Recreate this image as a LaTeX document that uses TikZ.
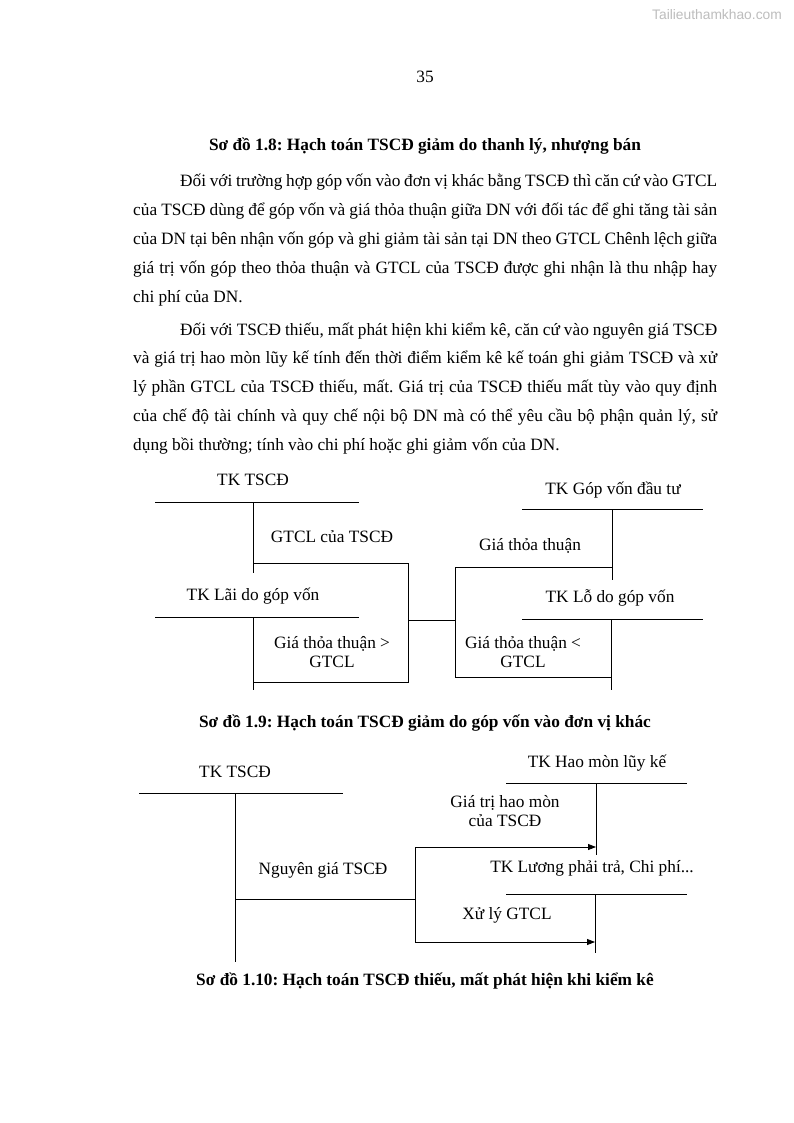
\documentclass[tikz,border=0pt]{standalone}
\usepackage{fontspec}
\setmainfont{Liberation Serif}
\newfontfamily\markfont{Liberation Sans}
\usetikzlibrary{arrows.meta,positioning}
\definecolor{MarkGray}{HTML}{BDBDBD}
\definecolor{InkBlack}{HTML}{000000}
\frenchspacing

\tikzset{
  acct/.style={font=\fontsize{17.3}{19.5}\selectfont,inner sep=0pt,align=center},
  caption/.style={font=\fontsize{17.3}{20}\selectfont\bfseries,inner sep=0pt,anchor=base},
  bodytext/.style={font=\fontsize{17.3}{28.8}\selectfont,text width=584pt,
                   align=justify,inner sep=0pt,anchor=base west},
  tline/.style={draw=InkBlack,line width=0.8pt},
  post/.style={draw=InkBlack,line width=0.8pt,-{Triangle[length=8pt,width=6pt]}},
}

\begin{document}
\begin{tikzpicture}[x=1pt,y=-1pt]
  \fill[white] (0,0) rectangle (794,1123);
  \useasboundingbox (0,0) rectangle (794,1123);

  \node[font=\markfont\fontsize{13.8}{15}\selectfont,text=MarkGray,inner sep=0pt]
    (mark) at (717,15) {Tailieuthamkhao.com};
  \node[font=\fontsize{17.3}{20}\selectfont,inner sep=0pt,anchor=base] (pageno) at (425,83) {35};

  \node[caption] (cap18) at (425,151) {Sơ đồ 1.8: Hạch toán TSCĐ giảm do thanh lý, nhượng bán};

  \node[bodytext] (para1) at (133,187) {%
    \hspace*{47pt}Đối với trường hợp góp vốn vào đơn vị khác bằng TSCĐ thì căn cứ vào GTCL\linebreak
    của TSCĐ dùng để góp vốn và giá thỏa thuận giữa DN với đối tác để ghi tăng tài sản\linebreak
    của DN tại bên nhận vốn góp và ghi giảm tài sản tại DN theo GTCL Chênh lệch giữa\linebreak
    giá trị vốn góp theo thỏa thuận và GTCL của TSCĐ được ghi nhận là thu nhập hay\linebreak
    chi phí của DN.};

  \node[bodytext] (para2) at (133,335) {%
    \hspace*{47pt}Đối với TSCĐ thiếu, mất phát hiện khi kiểm kê, căn cứ vào nguyên giá TSCĐ\linebreak
    và giá trị hao mòn lũy kế tính đến thời điểm kiểm kê kế toán ghi giảm TSCĐ và xử\linebreak
    lý phần GTCL của TSCĐ thiếu, mất. Giá trị của TSCĐ thiếu mất tùy vào quy định\linebreak
    của chế độ tài chính và quy chế nội bộ DN mà có thể yêu cầu bộ phận quản lý, sử\linebreak
    dụng bồi thường; tính vào chi phí hoặc ghi giảm vốn của DN.};

  % so do 1.9
  \node[acct] (tscd) at (253,480) {TK TSCĐ};
  \node[acct] (gtcl) at (332,537) {GTCL của TSCĐ};
  \node[acct] (lai) at (253,596) {TK Lãi do góp vốn};
  \node[acct] (thoalon) at (332,652) {Giá thỏa thuận >\\GTCL};
  \node[acct] (gopvon) at (613,490) {TK Góp vốn đầu tư};
  \node[acct] (thoa) at (530,546) {Giá thỏa thuận};
  \node[acct] (lo) at (610,598) {TK Lỗ do góp vốn};
  \node[acct] (thoanho) at (523,652) {Giá thỏa thuận <\\GTCL};

  \draw[tline] (155,502) -- (359,502);
  \draw[tline] (253,502) -- (253,573);
  \draw[tline] (155,617) -- (359,617);
  \draw[tline] (253,617) -- (253,690);
  \draw[tline] (253,563) -- (408,563) -- (408,682) -- (253,682);

  \draw[tline] (522,509) -- (703,509);
  \draw[tline] (612,509) -- (612,580);
  \draw[tline] (522,619) -- (703,619);
  \draw[tline] (611,619) -- (611,690);
  \draw[tline] (612,567) -- (455,567) -- (455,677) -- (611,677);

  \coordinate (boxL) at (408,620);
  \coordinate (boxR) at (455,620);
  \draw[tline] (boxL) -- (boxR);

  \node[caption] (cap19) at (425,727) {Sơ đồ 1.9: Hạch toán TSCĐ giảm do góp vốn vào đơn vị khác};

  % so do 1.10
  \node[acct] (tscd2) at (235,772) {TK TSCĐ};
  \node[acct] (nguyengia) at (323,870) {Nguyên giá TSCĐ};
  \node[acct] (haomon) at (597,763) {TK Hao mòn lũy kế};
  \node[acct] (gthm) at (505,811) {Giá trị hao mòn\\của TSCĐ};
  \node[acct] (luong) at (592,868) {TK Lương phải trả, Chi phí...};
  \node[acct] (xuly) at (507,915) {Xử lý GTCL};

  \draw[tline] (139,793) -- (343,793);
  \draw[tline] (235,793) -- (235,962);
  \draw[tline] (506,783) -- (687,783);
  \draw[tline] (596,783) -- (596,855);
  \draw[tline] (506,894) -- (687,894);
  \draw[tline] (595,894) -- (595,953);

  \coordinate (split) at (415,899);
  \coordinate (splitT) at (415,847);
  \coordinate (splitB) at (415,942);
  \coordinate (hmIn) at (596,847);
  \coordinate (luongIn) at (595,942);
  \draw[tline] (235,899) -- (split);
  \draw[tline] (splitT) -- (splitB);
  \draw[post] (splitT) -- (hmIn);
  \draw[post] (splitB) -- (luongIn);

  \node[caption] (cap110) at (425,985) {Sơ đồ 1.10: Hạch toán TSCĐ thiếu, mất phát hiện khi kiểm kê};
\end{tikzpicture}
\end{document}
